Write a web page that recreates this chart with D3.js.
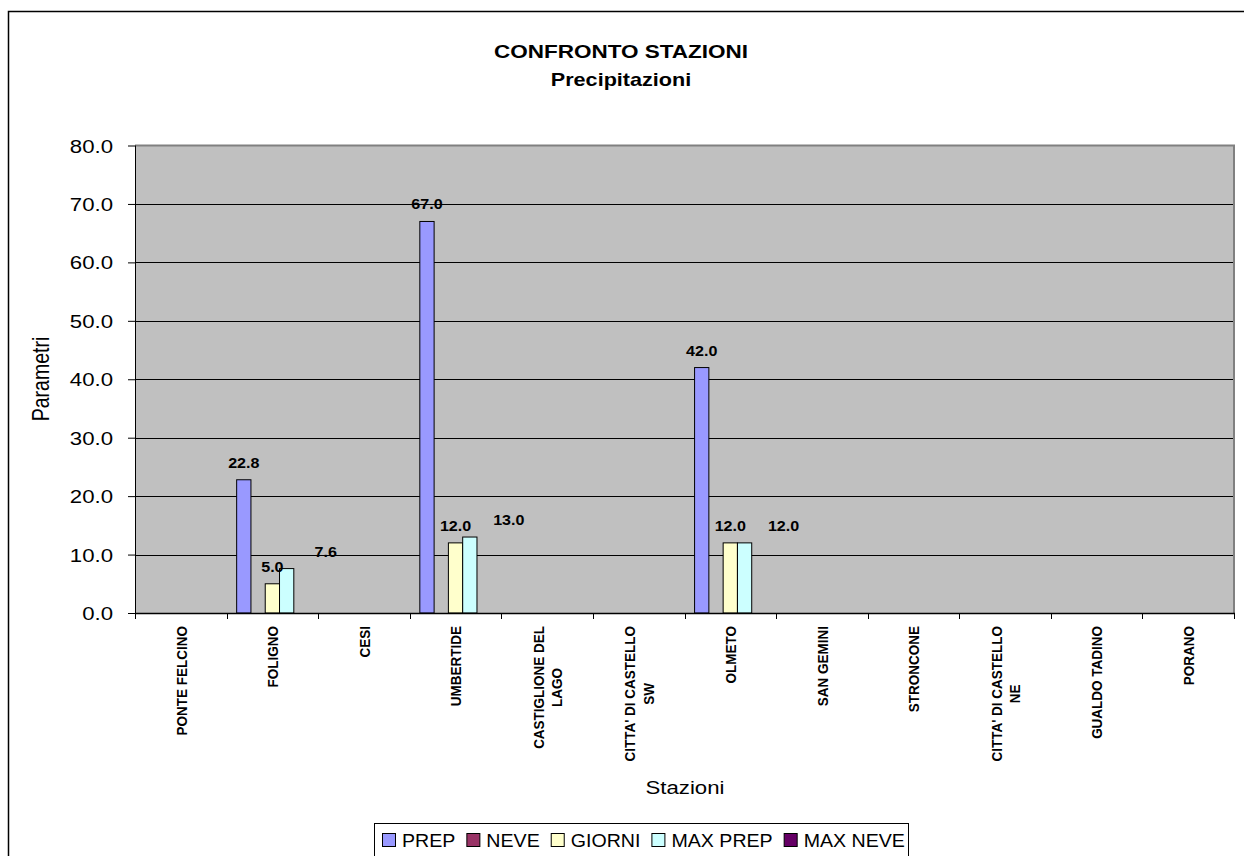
<!DOCTYPE html>
<html>
<head>
<meta charset="utf-8">
<script src="https://cdn.jsdelivr.net/npm/d3@7"></script>
<style>
  html, body { margin: 0; padding: 0; background: #ffffff; }
  svg { display: block; font-family: "Liberation Sans", Arial, sans-serif; }
</style>
</head>
<body>
<svg id="chart" width="1244" height="856"></svg>
<script>
// ---- Data ----
const titleLines = ["CONFRONTO STAZIONI", "Precipitazioni"];
const categories = [
  "PONTE FELCINO", "FOLIGNO", "CESI", "UMBERTIDE", "CASTIGLIONE DEL\nLAGO",
  "CITTA' DI CASTELLO\nSW", "OLMETO", "SAN GEMINI", "STRONCONE",
  "CITTA' DI CASTELLO\nNE", "GUALDO TADINO", "PORANO"
];
const seriesNames = ["PREP", "NEVE", "GIORNI", "MAX PREP", "MAX NEVE"];
const prep     = [null, 22.8, null, 67.0, null, null, 42.0, null, null, null, null, null];
const neve     = [null, null, null, null, null, null, null, null, null, null, null, null];
const giorni   = [null, 5.0,  null, 12.0, null, null, 12.0, null, null, null, null, null];
const maxPrep  = [null, 7.6,  null, 13.0, null, null, 12.0, null, null, null, null, null];
const maxNeve  = [null, null, null, null, null, null, null, null, null, null, null, null];
const yTicks = [0, 10, 20, 30, 40, 50, 60, 70, 80];
const yLabel = "Parametri";
const xLabel = "Stazioni";

const seriesValues = [prep, neve, giorni, maxPrep, maxNeve];
const seriesColors = ["#9999FF", "#993366", "#FFFFCC", "#CCFFFF", "#660066"];
const labelShift = { "MAX PREP": 39 };

// ---- Layout ----
const svg = d3.select("#chart");
const plot = { left: 135, right: 1234, top: 145.5, bottom: 613 };
const SX = 1.2; // horizontal stretch of the reference's text

function stretchedText(parent, x, y, txt, opts) {
  const g = parent.append("g").attr("transform", `translate(${x},${y}) scale(${opts.sx || SX},1)`);
  const t = g.append("text")
    .attr("text-anchor", opts.anchor || "middle")
    .attr("font-size", opts.size)
    .attr("font-weight", opts.weight || "normal")
    .attr("fill", "#000")
    .text(txt);
  return t;
}

// outer chart border
svg.append("rect").attr("x", 8.5).attr("y", 11.5).attr("width", 1300).attr("height", 900)
  .attr("fill", "#fff").attr("stroke", "#000").attr("stroke-width", 1.5);

// scales
const x0 = d3.scaleBand().domain(categories).range([plot.left, plot.right]).paddingInner(0).paddingOuter(0);
const bw = x0.bandwidth();
const x1 = d3.scaleBand().domain(seriesNames).range([bw * 0.11, bw * 0.89]).padding(0);
const y = d3.scaleLinear().domain([0, 80]).range([plot.bottom, plot.top]);

// plot background
svg.append("rect").attr("x", plot.left).attr("y", plot.top)
  .attr("width", plot.right - plot.left).attr("height", plot.bottom - plot.top)
  .attr("fill", "#C0C0C0");

// gridlines
svg.append("g").selectAll("line").data(yTicks.filter(d => d > 0 && d < 80)).join("line")
  .attr("x1", plot.left).attr("x2", plot.right)
  .attr("y1", d => Math.round(y(d)) + 0.5).attr("y2", d => Math.round(y(d)) + 0.5)
  .attr("stroke", "#000").attr("stroke-width", 1);

// plot border (top/right gray)
svg.append("path")
  .attr("d", `M${plot.left},${plot.top}H${plot.right}V${plot.bottom}`)
  .attr("fill", "none").attr("stroke", "#808080").attr("stroke-width", 2);

// bars
const barData = [];
seriesNames.forEach((s, si) => {
  seriesValues[si].forEach((v, ci) => {
    if (v !== null && v !== undefined) barData.push({ s, si, cat: categories[ci], v });
  });
});
svg.append("g").selectAll("rect").data(barData).join("rect")
  .attr("x", d => x0(d.cat) + x1(d.s))
  .attr("y", d => y(d.v))
  .attr("width", x1.bandwidth())
  .attr("height", d => y(0) - y(d.v))
  .attr("fill", d => seriesColors[d.si])
  .attr("stroke", "#000").attr("stroke-width", 1);

// data labels
const lblG = svg.append("g");
barData.forEach(d => {
  const cx = x0(d.cat) + x1(d.s) + x1.bandwidth() / 2 + (labelShift[d.s] || 0);
  stretchedText(lblG, cx, y(d.v) - 12, d3.format(".1f")(d.v), { size: 14, weight: "bold", sx: 1.15 });
});

// y axis
const yAxis = d3.axisLeft(y).tickValues(yTicks).tickFormat(d3.format(".1f")).tickSize(7).tickPadding(0);
const yAxG = svg.append("g").attr("transform", `translate(${plot.left},0)`).call(yAxis);
yAxG.select(".domain").remove();
yAxG.selectAll(".tick line").attr("stroke", "#000");
yAxG.selectAll(".tick text").remove();
yAxG.selectAll(".tick").each(function (d) {
  stretchedText(d3.select(this), -22, 6.5, d3.format(".1f")(d), { size: 18.5, anchor: "end", sx: 1.2 });
});
svg.append("line").attr("x1", plot.left + 0.5).attr("x2", plot.left + 0.5)
  .attr("y1", plot.top).attr("y2", plot.bottom).attr("stroke", "#000");

// x axis
const xAxG = svg.append("g").attr("transform", `translate(0,${plot.bottom})`);
xAxG.append("line").attr("x1", plot.left).attr("x2", plot.right + 1)
  .attr("y1", 0.5).attr("y2", 0.5).attr("stroke", "#000").attr("stroke-width", 1.5);
const boundaries = categories.map(c => x0(c)).concat([plot.right]);
xAxG.selectAll("line.tk").data(boundaries).join("line").attr("class", "tk")
  .attr("x1", d => Math.round(d) + 0.5).attr("x2", d => Math.round(d) + 0.5)
  .attr("y1", 0).attr("y2", 6).attr("stroke", "#000");

// category labels (rotated)
categories.forEach(c => {
  const lines = c.split("\n");
  const cx = x0(c) + bw / 2;
  const g = svg.append("g").attr("transform", `translate(${cx},626) rotate(-90) scale(1,1.15)`);
  const texts = lines.map(l => g.append("text")
    .attr("font-size", 13.5).attr("font-weight", "bold").attr("text-anchor", "middle").text(l));
  const maxLen = d3.max(texts, t => t.node().getComputedTextLength());
  const lineH = 16;
  texts.forEach((t, k) => {
    t.attr("x", -maxLen / 2).attr("y", (k - (lines.length - 1) / 2) * lineH + 5);
  });
});

// titles
stretchedText(svg, 621, 58, titleLines[0], { size: 18, weight: "bold", sx: 1.25 });
stretchedText(svg, 621, 86, titleLines[1], { size: 18, weight: "bold", sx: 1.2 });

// axis titles
stretchedText(svg, 685, 794, xLabel, { size: 18.5, sx: 1.2 });
svg.append("g").attr("transform", `translate(49,379) rotate(-90) scale(1,1.2)`)
  .append("text").attr("text-anchor", "middle").attr("font-size", 19.5).text(yLabel);

// legend
const leg = svg.append("g");
leg.append("rect").attr("x", 374.5).attr("y", 823.5).attr("width", 534).attr("height", 60)
  .attr("fill", "#fff").attr("stroke", "#000").attr("stroke-width", 1);
let lx = 382;
seriesNames.forEach((s, i) => {
  leg.append("rect").attr("x", lx + 0.5).attr("y", 833.5).attr("width", 13).attr("height", 13)
    .attr("fill", seriesColors[i]).attr("stroke", "#000");
  const t = stretchedText(leg, lx + 20, 847, s, { size: 18.5, anchor: "start", sx: 1.06 });
  const w = t.node().getComputedTextLength() * 1.06;
  lx += 20 + w + 11;
});
</script>
</body>
</html>
